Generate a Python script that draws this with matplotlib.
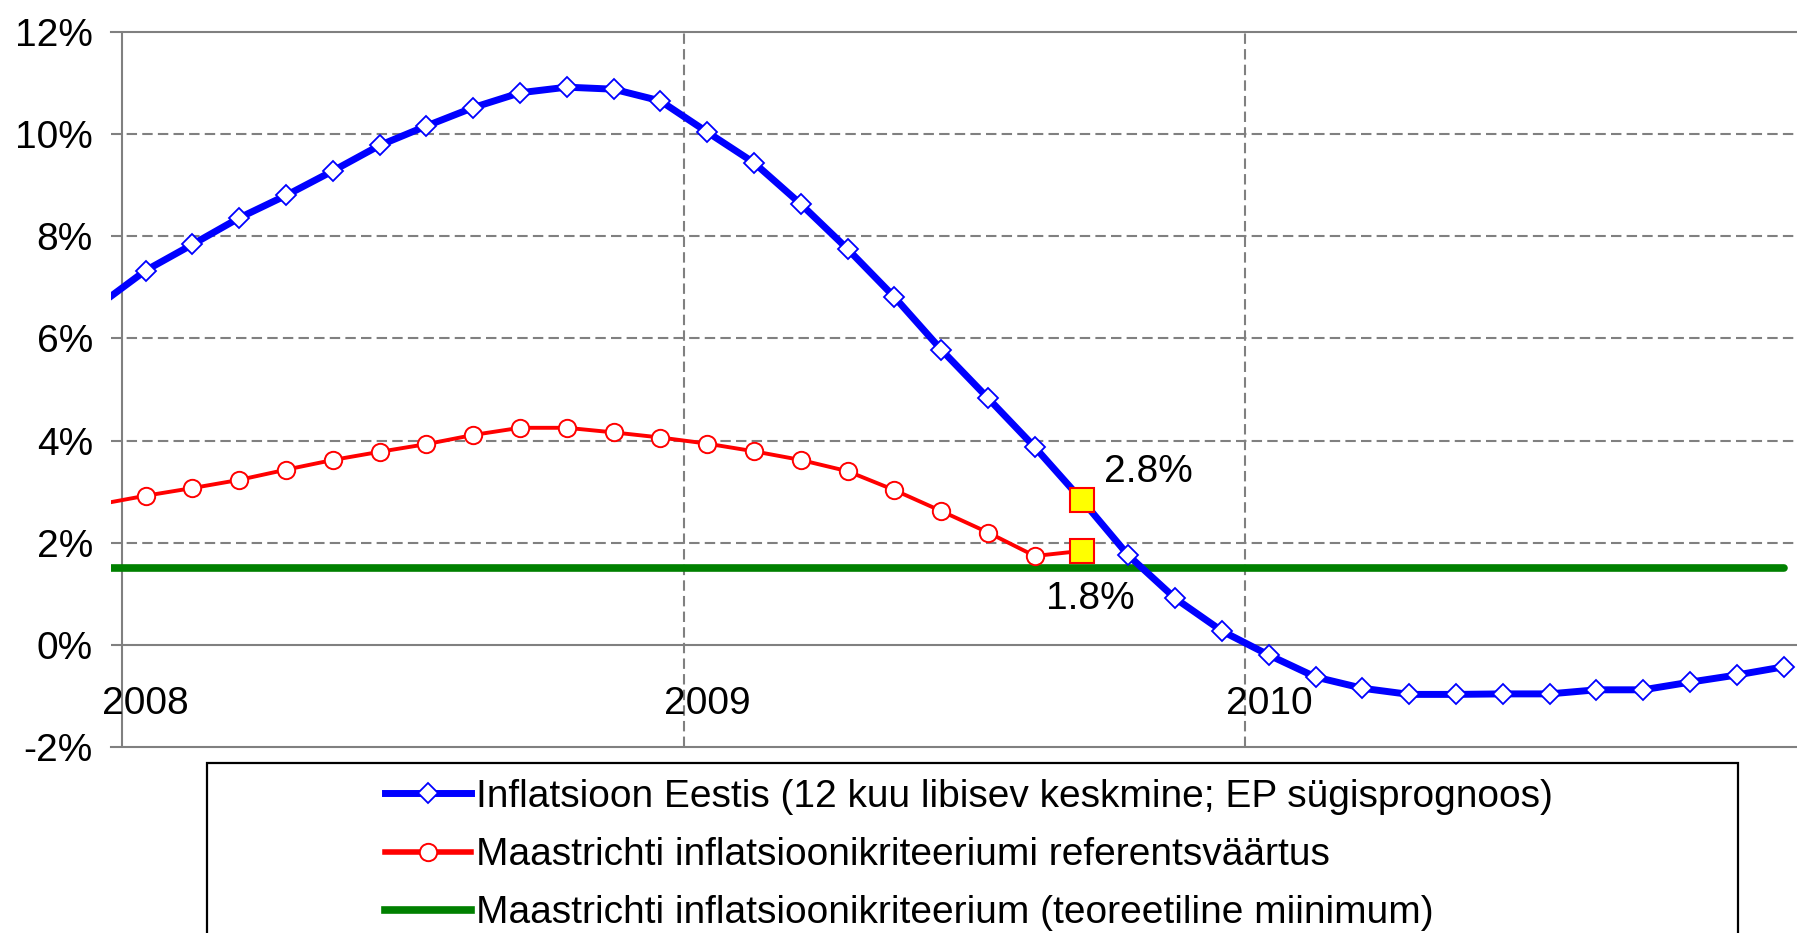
import numpy as np
import matplotlib
matplotlib.use('Agg')
import matplotlib.pyplot as plt
from matplotlib.lines import Line2D
from matplotlib.patches import Rectangle

plt.rcParams['font.family'] = ['Liberation Sans', 'DejaVu Sans']

# month index: 0 = Jan 2008, -1 = Dec 2007
months_blue = np.arange(-1, 36)
blue = [6.65, 7.33, 7.84, 8.36, 8.80, 9.28, 9.78, 10.16, 10.52, 10.81, 10.92,
        10.88, 10.65, 10.04, 9.44, 8.63, 7.75, 6.81, 5.78, 4.83, 3.87, 2.84,
        1.75, 0.91, 0.27, -0.20, -0.63, -0.85, -0.97, -0.97, -0.96, -0.96,
        -0.88, -0.88, -0.73, -0.59, -0.43]

months_red = np.arange(-1, 21)
red = [2.75, 2.92, 3.07, 3.23, 3.43, 3.62, 3.78, 3.93, 4.11, 4.25, 4.25,
       4.16, 4.06, 3.94, 3.79, 3.62, 3.40, 3.03, 2.62, 2.20, 1.74, 1.84]

minimum = 1.5
last_month = 20
point_labels = ['2.8%', '1.8%']

year_labels = ['2008', '2009', '2010']
year_pos = [0, 12, 24]
yticks = [-2, 0, 2, 4, 6, 8, 10, 12]

names = ['Inflatsioon Eestis (12 kuu libisev keskmine; EP sügisprognoos)',
         'Maastrichti inflatsioonikriteeriumi referentsväärtus',
         'Maastrichti inflatsioonikriteerium (teoreetiline miinimum)']

W, H = 1797, 933
fig = plt.figure(figsize=(W / 100, H / 100), dpi=100)
ax = fig.add_axes([111 / W, 1 - 747 / H, 1 - 111 / W + 0.01, (747 - 32) / H])

ax.set_xlim(-0.74, -0.74 + (W - 111) / 46.8 + 0.01 * W / 46.8)
ax.set_ylim(-2, 12)

grid_kw = dict(color='#808080', lw=1.5, ls=(0, (5, 2.5)), zorder=1)
for y in [2, 4, 6, 8, 10]:
    ax.axhline(y, **grid_kw)
for x in [11.5, 23.5]:
    ax.axvline(x, **grid_kw)
ax.axhline(0, color='#808080', lw=1.5, zorder=1)
ax.axvline(-0.5, color='#808080', lw=1.5, zorder=1)

for s in ['left', 'right']:
    ax.spines[s].set_visible(False)
for s in ['top', 'bottom']:
    ax.spines[s].set_color('#808080')
    ax.spines[s].set_linewidth(1.5)

ax.set_yticks(yticks)
ax.set_yticklabels([f'{v}%' for v in yticks], fontsize=28)
ax.tick_params(axis='y', length=0, pad=13)
ax.set_xticks([])

for lab, pos in zip(year_labels, year_pos):
    ax.text(pos, -1.15, lab, fontsize=28, ha='center', va='center')

ax.plot(months_blue[:len(blue)], minimum * np.ones(len(blue)), color='#008000',
        lw=5.5, solid_capstyle='round', zorder=3)
ax.plot(months_red, red, color='#FF0000', lw=2.8, marker='o', ms=12.5,
        mfc='white', mec='#FF0000', mew=1.4, zorder=4)
ax.plot(months_blue, blue, color='#0000FF', lw=5, marker='D', ms=10.5,
        mfc='white', mec='#0000FF', mew=1.3, zorder=5)

i = months_blue.tolist().index(last_month)
j = months_red.tolist().index(last_month)
ax.plot([last_month, last_month], [blue[i], red[j]], ls='none', marker='s',
        ms=17.5, mfc='#FFFF00', mec='#FF0000', mew=1.5, zorder=6)
ax.annotate(point_labels[0], (last_month, blue[i]), xytext=(16, 20),
            textcoords='offset points', fontsize=28, ha='left', va='center')
ax.annotate(point_labels[1], (last_month, red[j]), xytext=(6, -35),
            textcoords='offset points', fontsize=28, ha='center', va='center')

# legend box, cut by the bottom of the picture
fig.add_artist(Rectangle((207 / W, -0.1), (1738 - 207) / W, 0.1 + 1 - 763 / H,
                         transform=fig.transFigure, facecolor='white',
                         edgecolor='black', lw=1.6))

handles = [
    Line2D([], [], color='#0000FF', lw=5, marker='D', ms=10.5, mfc='white',
           mec='#0000FF', mew=1.3),
    Line2D([], [], color='#FF0000', lw=4, marker='o', ms=12.5, mfc='white',
           mec='#FF0000', mew=1.4),
    Line2D([], [], color='#008000', lw=5.5),
]
fig.legend(handles, names, loc='upper left', bbox_to_anchor=(385 / W, 1 - 779 / H),
           frameon=False, fontsize=28, borderpad=0, borderaxespad=0,
           handlelength=2.2, handletextpad=0.15, labelspacing=0.57)

fig.savefig('out.png', dpi=100)
